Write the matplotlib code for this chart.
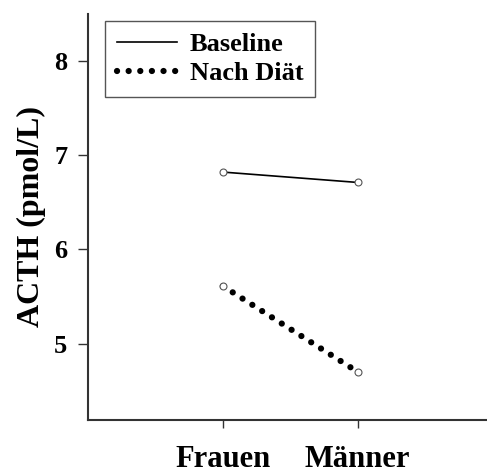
import matplotlib
matplotlib.use('Agg')
import matplotlib.pyplot as plt

# Data
groups = ['Frauen', 'Männer']
baseline = [6.82, 6.71]
nach_diaet = [5.61, 4.70]
series_labels = ['Baseline', 'Nach Diät']
y_ticks = [5, 6, 7, 8]

plt.rcParams['font.family'] = ['Liberation Serif', 'DejaVu Serif']
plt.rcParams['font.weight'] = 'bold'

fig = plt.figure(figsize=(4.87, 4.75), dpi=100)
ax = fig.add_axes([0.181, 0.116, 0.819, 0.855])

x = [1, 2]

# Baseline: thin solid line with small open circles
ax.plot(x, baseline, color='black', linewidth=1.2, label=series_labels[0])
# Nach Diät: heavy round-dot line
ax.plot(x, nach_diaet, color='black', linewidth=4.5,
        linestyle=(0, (0.01, 1.85)), dash_capstyle='round',
        label=series_labels[1])

# open circle markers at the data points
for vals in (baseline, nach_diaet):
    ax.plot(x, vals, linestyle='none', marker='o', markersize=5,
            markerfacecolor='white', markeredgecolor='#555555',
            markeredgewidth=0.8, zorder=5)

ax.set_xlim(0, 2.96)
ax.set_ylim(4.19, 8.5)
ax.set_xticks(x)
ax.set_xticklabels(groups, fontsize=22, fontweight='bold')
ax.set_yticks(y_ticks)
ax.set_yticklabels([str(t) for t in y_ticks], fontsize=19, fontweight='bold')
ax.set_ylabel('ACTH (pmol/L)', fontsize=23, fontweight='bold', labelpad=6)

ax.tick_params(axis='y', direction='out', length=7, width=1, pad=8, colors='#333333',
               labelcolor='black')
ax.tick_params(axis='x', direction='out', length=6, width=1, pad=12, colors='#333333',
               labelcolor='black')

for side in ['top', 'right']:
    ax.spines[side].set_visible(False)
for side in ['left', 'bottom']:
    ax.spines[side].set_linewidth(1.5)
    ax.spines[side].set_color('#333333')

leg = ax.legend(loc='upper left', bbox_to_anchor=(0.043, 0.983), borderaxespad=0,
                fancybox=False, edgecolor='#555555', framealpha=1,
                prop={'size': 19, 'weight': 'bold'}, handlelength=2.25,
                handletextpad=0.5, borderpad=0.45, labelspacing=0.2)
leg.get_frame().set_linewidth(1.0)

fig.savefig('out.png', dpi=100)
